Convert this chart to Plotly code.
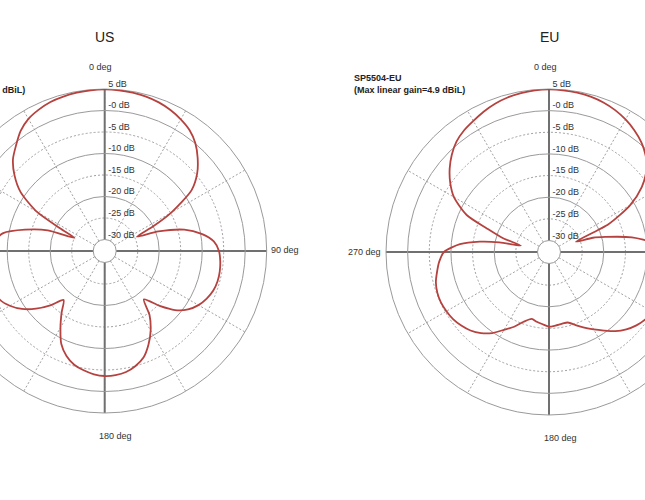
import math
import plotly.graph_objects as go

# ---------------- data ----------------
us_angle = [0, 5, 10, 15, 20, 25, 30, 35, 40, 45, 50, 55, 60, 63, 66,
            70, 75, 80, 85, 90, 95, 100, 105, 110, 115, 120, 125, 130, 135, 141,
            145, 150, 155, 160, 165, 170, 175, 180,
            185, 190, 195, 200, 205, 210, 215, 220, 225, 230, 235, 240, 245, 250,
            255, 260, 265, 270, 275, 280, 285, 290, 293.5,
            297, 300, 305, 310, 315, 320, 325, 330, 335, 340, 345, 350, 355, 360]
us_gain_db = [4.9, 4.85, 4.7, 4.5, 4.1, 3.5, 2.7, 1.7, 0.1, -2.1, -4.6, -8.0, -14.8, -20.0, -24.5,
              -19.4, -13.5, -9.8, -7.2, -6.1, -5.7, -5.5, -5.5, -5.8, -6.5, -7.5, -9.0, -11.3, -14.6, -18.2,
              -14.5, -11.3, -8.6, -6.3, -5.0, -4.1, -3.7, -3.6,
              -3.9, -4.5, -5.3, -6.7, -8.8, -12.1, -15.2, -17.8, -14.8, -11.8, -9.2, -7.2, -5.8, -5.5,
              -5.4, -5.5, -5.8, -6.1, -7.0, -8.7, -13.5, -18.6, -25.0,
              -21.0, -14.5, -8.8, -5.3, -2.5, -0.6, 1.4, 2.8, 3.6, 4.2, 4.5, 4.7, 4.85, 4.9]

eu_angle = [0, 5, 10, 15, 20, 25, 30, 35, 40, 45, 50, 55, 60, 65, 69,
            72, 75, 80, 85, 90, 95, 100, 105, 110, 115, 120, 125, 130, 135, 140,
            145, 150, 155, 160, 165, 170, 175, 180, 185, 190, 194.5, 200, 205, 210,
            215, 220, 225, 230, 235, 240, 245, 250, 255, 260, 265, 270, 275, 278.5,
            281, 283, 286.7, 290.8, 294.2, 300, 305, 310, 315, 320, 325, 330, 335,
            340, 345, 350, 355, 360]
eu_gain_db = [4.9, 4.85, 4.75, 4.5, 4.1, 3.5, 2.7, 1.7, 0.5, -1.1, -3.3, -6.5, -11.0, -17.5, -26.0,
              -22.0, -19.2, -13.2, -8.5, -6.5, -5.5, -4.9, -4.6, -4.5, -4.7, -5.1, -5.5, -6.3, -7.4, -8.8,
              -10.5, -12.0, -13.4, -14.7, -15.8, -15.8, -15.6, -15.4, -15.9, -16.3, -16.7, -15.5, -13.6, -11.9,
              -9.8, -8.2, -7.0, -6.2, -5.6, -5.3, -5.1, -5.2, -5.6, -6.4, -7.2, -8.4, -12.0, -16.5,
              -21.0, -26.0, -21.6, -17.3, -11.8, -7.3, -4.8, -2.7, -0.9, 0.6, 1.6, 2.3, 3.1,
              3.8, 4.3, 4.6, 4.8, 4.9]

chart_titles = ["US", "EU"]
model_names = ["", "SP5504-EU"]          # US model line lies outside the picture
max_gain_dbil = [4.9, 4.9]

db_tick_values = [5, 0, -5, -10, -15, -20, -25, -30]
db_tick_labels = ["5 dB", "-0 dB", "-5 dB", "-10 dB", "-15 dB", "-20 dB", "-25 dB", "-30 dB"]
solid_ring_values = [-30, -20, -10, 0]
dotted_ring_values = [-25, -15, -5]
axis_angles = [0, 90, 180, 270]
compass_labels = {0: "0 deg", 90: "90 deg", 180: "180 deg", 270: "270 deg"}
visible_compass = [[0, 90, 180], [0, 180, 270]]
spoke_step = 30
radial_range = [-30, 5]

# ---------------- layout / style constants ----------------
H = 500
SHIFT = 100          # figure is wider than the window; page is shifted left
W = 860
FONT = "Liberation Sans, Arial, sans-serif"
TXT = "#333333"
CURVE = "#b5423f"
RING = "#9a9a9a"
DOT = "#a0a0a0"
DOT_DASH = "2px,2px"
CROSS = "#707070"
HOLE_PX = 11.5
# (center x, center y, radius) in window pixels
geom = [(104.7, 251.0, 162.0), (549.0, 252.0, 163.0)]
header_x = [-88.5, 352.0]
compass_style = {0: ("center", -4, -22), 90: ("left", 2.6, -1),
                 180: ("center", 11, 23), 270: ("right", -3, 0)}
DB_LABEL_DX = 3.5


def ppd(R):
    return (R - HOLE_PX) / (radial_range[1] - radial_range[0])


def dom(cx, cy, R):
    return dict(x=[(cx - R + SHIFT) / W, (cx + R + SHIFT) / W],
                y=[(H - (cy + R)) / H, (H - (cy - R)) / H])


def px(x):
    return (x + SHIFT) / W


def py(y):
    return (H - y) / H


fig = go.Figure()
layout = dict(
    width=W, height=H, margin=dict(l=0, r=0, t=0, b=0),
    paper_bgcolor="white", plot_bgcolor="white", showlegend=False,
    font=dict(family=FONT, size=9, color=TXT),
    annotations=[],
)

series = [(us_angle, us_gain_db), (eu_angle, eu_gain_db)]
for i, ((cx, cy, R), (ang, gain)) in enumerate(zip(geom, series)):
    base = "polar" + ("" if i == 0 else str(2 * i + 1))
    top = "polar" + str(2 * i + 2)
    d = dom(cx, cy, R)
    hole = HOLE_PX / R
    common_ang = dict(rotation=90, direction="clockwise", showticklabels=False,
                      ticks="", layer="below traces")
    common_rad = dict(range=radial_range, showticklabels=False, ticks="",
                      showline=False, layer="below traces")
    layout[base] = dict(
        domain=d, hole=hole, bgcolor="white",
        radialaxis=dict(**common_rad, tickmode="array", tickvals=dotted_ring_values,
                        gridcolor=DOT, griddash=DOT_DASH, gridwidth=1),
        angularaxis=dict(**common_ang, tickmode="linear", tick0=0, dtick=spoke_step,
                         gridcolor=DOT, griddash=DOT_DASH, gridwidth=1, showline=False),
    )
    layout[top] = dict(
        domain=d, hole=hole, bgcolor="rgba(0,0,0,0)",
        radialaxis=dict(**common_rad, tickmode="array", tickvals=solid_ring_values,
                        gridcolor=RING, gridwidth=1),
        angularaxis=dict(**common_ang, tickmode="array", tickvals=axis_angles,
                         gridcolor=CROSS, gridwidth=1.5, showline=True,
                         linecolor=RING, linewidth=1),
    )
    s = ppd(R)
    # placeholder so the dotted-grid layer is rendered
    fig.add_trace(go.Scatterpolar(r=[], theta=[], mode="lines", subplot=base,
                                  hoverinfo="skip"))
    # pattern
    fig.add_trace(go.Scatterpolar(
        r=gain, theta=ang, mode="lines", subplot=top,
        line=dict(color=CURVE, width=1.8, shape="spline", smoothing=0.7),
        hoverinfo="skip"))
    # dB labels along the 0 deg axis
    rpx = [HOLE_PX + (v - radial_range[0]) * s for v in db_tick_values]
    fig.add_trace(go.Scatterpolar(
        r=db_tick_values,
        theta=[math.degrees(math.atan2(DB_LABEL_DX, p)) for p in rpx],
        mode="text", text=db_tick_labels, textposition="top right",
        textfont=dict(size=9, color=TXT, family=FONT),
        subplot=top, cliponaxis=False, hoverinfo="skip"))
    # compass labels (outside the circle -> paper annotations)
    for a in visible_compass[i]:
        anchor, dx, dy = compass_style[a]
        ex = cx + R * math.sin(math.radians(a)) + dx
        ey = cy - R * math.cos(math.radians(a)) + dy
        layout["annotations"].append(dict(
            text=compass_labels[a], x=px(ex), y=py(ey), xref="paper", yref="paper",
            showarrow=False, xanchor=anchor, yanchor="middle",
            font=dict(size=9, color=TXT, family=FONT)))
    # titles / headers
    layout["annotations"].append(dict(
        text=chart_titles[i], x=px(cx), y=py(37), xref="paper", yref="paper",
        showarrow=False, xanchor="center", yanchor="middle",
        font=dict(size=14, color="#222222", family=FONT)))
    if model_names[i]:
        layout["annotations"].append(dict(
            text=model_names[i], x=px(header_x[i]), y=py(77.5), xref="paper", yref="paper",
            showarrow=False, xanchor="left", yanchor="middle",
            font=dict(size=9, color="#222222", family=FONT, weight="bold")))
    layout["annotations"].append(dict(
        text=f"(Max linear gain={max_gain_dbil[i]} dBiL)", x=px(header_x[i]), y=py(90),
        xref="paper", yref="paper", showarrow=False, xanchor="left", yanchor="middle",
        font=dict(size=9, color="#222222", family=FONT, weight="bold")))

fig.update_layout(**layout)

post = (
    "var gd=document.getElementById('{plot_id}');"
    "document.documentElement.style.overflow='hidden';"
    "document.body.style.margin='0';document.body.style.overflow='hidden';"
    "gd.style.marginLeft='-%dpx';" % SHIFT
)
fig.write_html("out.html", post_script=post, config={"displayModeBar": False})
